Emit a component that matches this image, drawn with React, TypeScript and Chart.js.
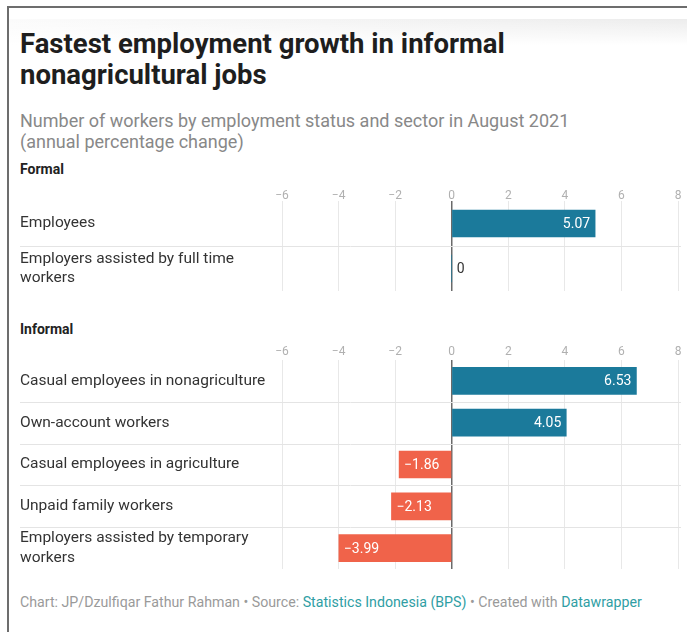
import React, { useEffect, useRef } from "react";
import { Chart, registerables } from "chart.js";

Chart.register(...registerables);

// ---------- data ----------
const formalCategories: (string | string[])[] = [
  "Employees",
  ["Employers assisted by full time", "workers"],
];
const formalValues: number[] = [5.07, 0];

const informalCategories: (string | string[])[] = [
  "Casual employees in nonagriculture",
  "Own-account workers",
  "Casual employees in agriculture",
  "Unpaid family workers",
  ["Employers assisted by temporary", "workers"],
];
const informalValues: number[] = [6.53, 4.05, -1.86, -2.13, -3.99];

const axisMin = -6;
const axisMax = 8;
const axisStep = 2;

// ---------- styles ----------
const FONT = "Roboto";
const TEAL = "#1b7a9b";
const RED = "#f0634a";

const minus = "\u2212";
const fmtValue = (v: number) =>
  v === 0 ? "0" : v < 0 ? minus + Math.abs(v).toFixed(2) : v.toFixed(2);
const fmtTick = (v: number) => (v < 0 ? minus + Math.abs(v) : String(v));

const rowsPlugin = {
  id: "rowsAndValues",
  beforeDatasetsDraw(chart: any) {
    const { ctx } = chart;
    const ys = chart.scales.y;
    const n = chart.data.labels.length;
    ctx.save();
    ctx.strokeStyle = "#e4e4e4";
    ctx.lineWidth = 1;
    for (let i = 0; i < n - 1; i++) {
      const py = Math.round((ys.getPixelForValue(i) + ys.getPixelForValue(i + 1)) / 2) + 0.5;
      ctx.beginPath();
      ctx.moveTo(20, py);
      ctx.lineTo(chart.width - 6, py);
      ctx.stroke();
    }
    ctx.restore();
  },
  afterDatasetsDraw(chart: any) {
    const { ctx } = chart;
    const meta = chart.getDatasetMeta(0);
    const data = chart.data.datasets[0].data as number[];
    ctx.save();
    ctx.font = `14px ${FONT}`;
    ctx.textBaseline = "middle";
    meta.data.forEach((bar: any, i: number) => {
      const v = data[i];
      const { x, y } = bar.getProps(["x", "y"], true);
      if (v > 0) {
        ctx.fillStyle = "#ffffff";
        ctx.textAlign = "right";
        ctx.fillText(fmtValue(v), x - 5, y + 1);
      } else if (v < 0) {
        ctx.fillStyle = "#ffffff";
        ctx.textAlign = "left";
        ctx.fillText(fmtValue(v), x + 5, y + 1);
      } else {
        ctx.fillStyle = "#333333";
        ctx.textAlign = "left";
        ctx.fillText(fmtValue(v), x + 5, y + 1);
      }
    });
    ctx.restore();
  },
};

function BarSection(props: {
  labels: (string | string[])[];
  values: number[];
  top: number;
  height: number;
  axisHeight: number;
  tickPad: number;
}) {
  const ref = useRef<HTMLCanvasElement | null>(null);
  useEffect(() => {
    if (!ref.current) return;
    const chart = new Chart(ref.current, {
      type: "bar",
      data: {
        labels: props.labels as any,
        datasets: [
          {
            data: props.values,
            backgroundColor: props.values.map((v) => (v < 0 ? RED : TEAL)),
            barThickness: 27,
            borderWidth: 0,
          },
        ],
      },
      options: {
        indexAxis: "y",
        responsive: false,
        maintainAspectRatio: false,
        animation: false,
        layout: { padding: { left: 20, right: 9, top: 0, bottom: 0 } },
        plugins: {
          legend: { display: false },
          tooltip: { enabled: false },
        },
        scales: {
          x: {
            position: "top",
            min: axisMin,
            max: axisMax,
            afterFit: (s: any) => {
              s.height = props.axisHeight;
              s.paddingLeft = 0;
              s.paddingRight = 0;
            },
            ticks: {
              stepSize: axisStep,
              padding: props.tickPad,
              color: "#b0b0b0",
              font: { family: FONT, size: 12 },
              callback: (v: any) => fmtTick(Number(v)),
            },
            grid: {
              drawTicks: false,
              color: (c: any) => (c.tick && c.tick.value === 0 ? "#6a6a6a" : "#e8e8e8"),
              lineWidth: (c: any) => (c.tick && c.tick.value === 0 ? 1.5 : 1),
            },
            border: { display: false },
          },
          y: {
            afterFit: (s: any) => {
              s.width = 262;
              s.paddingTop = 0;
              s.paddingBottom = 0;
            },
            ticks: {
              autoSkip: false,
              crossAlign: "far",
              color: "#333333",
              padding: 0,
              font: { family: FONT, size: 15.5, lineHeight: 1.25 },
            },
            grid: { display: false, drawTicks: false },
            border: { display: false },
          },
        },
      },
      plugins: [rowsPlugin],
    } as any);
    return () => chart.destroy();
  }, []);
  return (
    <canvas
      ref={ref}
      width={687}
      height={props.height}
      style={{ position: "absolute", left: 0, top: props.top, width: 687, height: props.height, display: "block" }}
    />
  );
}

export default function App() {
  useEffect(() => {
    document.body.style.margin = "0";
  }, []);
  const txt: React.CSSProperties = { position: "absolute", fontFamily: FONT, whiteSpace: "nowrap", margin: 0 };
  return (
    <div style={{ position: "relative", width: 687, height: 632, background: "#fff", overflow: "hidden" }}>
      <div
        style={{
          position: "absolute",
          left: 9,
          top: 19,
          width: 678,
          height: 26,
          background: "linear-gradient(to bottom, rgba(255,255,255,0), #fff), linear-gradient(to right, #fbfbfb, #ececec)",
        }}
      />
      <div style={{ position: "absolute", left: 7, top: 6, width: 690, height: 640, borderTop: "2px solid #6d6d6d", borderLeft: "2px solid #6d6d6d" }} />
      <div style={{ ...txt, left: 20, top: 28, fontSize: 27.5, lineHeight: "31px", fontWeight: 700, color: "#1e1e1e" }}>
        Fastest employment growth in informal
        <br />
        nonagricultural jobs
      </div>
      <div style={{ ...txt, left: 20, top: 110, fontSize: 18, lineHeight: "21px", color: "#888" }}>
        Number of workers by employment status and sector in August 2021
        <br />
        (annual percentage change)
      </div>
      <div style={{ ...txt, left: 20, top: 161, fontSize: 14, lineHeight: "16px", fontWeight: 700, color: "#222" }}>Formal</div>
      <BarSection labels={formalCategories} values={formalValues} top={180} height={111} axisHeight={21} tickPad={-2} />
      <div style={{ ...txt, left: 20, top: 321, fontSize: 14, lineHeight: "16px", fontWeight: 700, color: "#222" }}>Informal</div>
      <BarSection labels={informalCategories} values={informalValues} top={340} height={229} axisHeight={20} tickPad={1} />
      <div style={{ ...txt, left: 20, top: 594, fontSize: 14.2, lineHeight: "16px", color: "#9a9a9a" }}>
        Chart: JP/Dzulfiqar Fathur Rahman • Source: <span style={{ color: "#2f9ea4" }}>Statistics Indonesia (BPS)</span> • Created with{" "}
        <span style={{ color: "#2f9ea4" }}>Datawrapper</span>
      </div>
    </div>
  );
}
